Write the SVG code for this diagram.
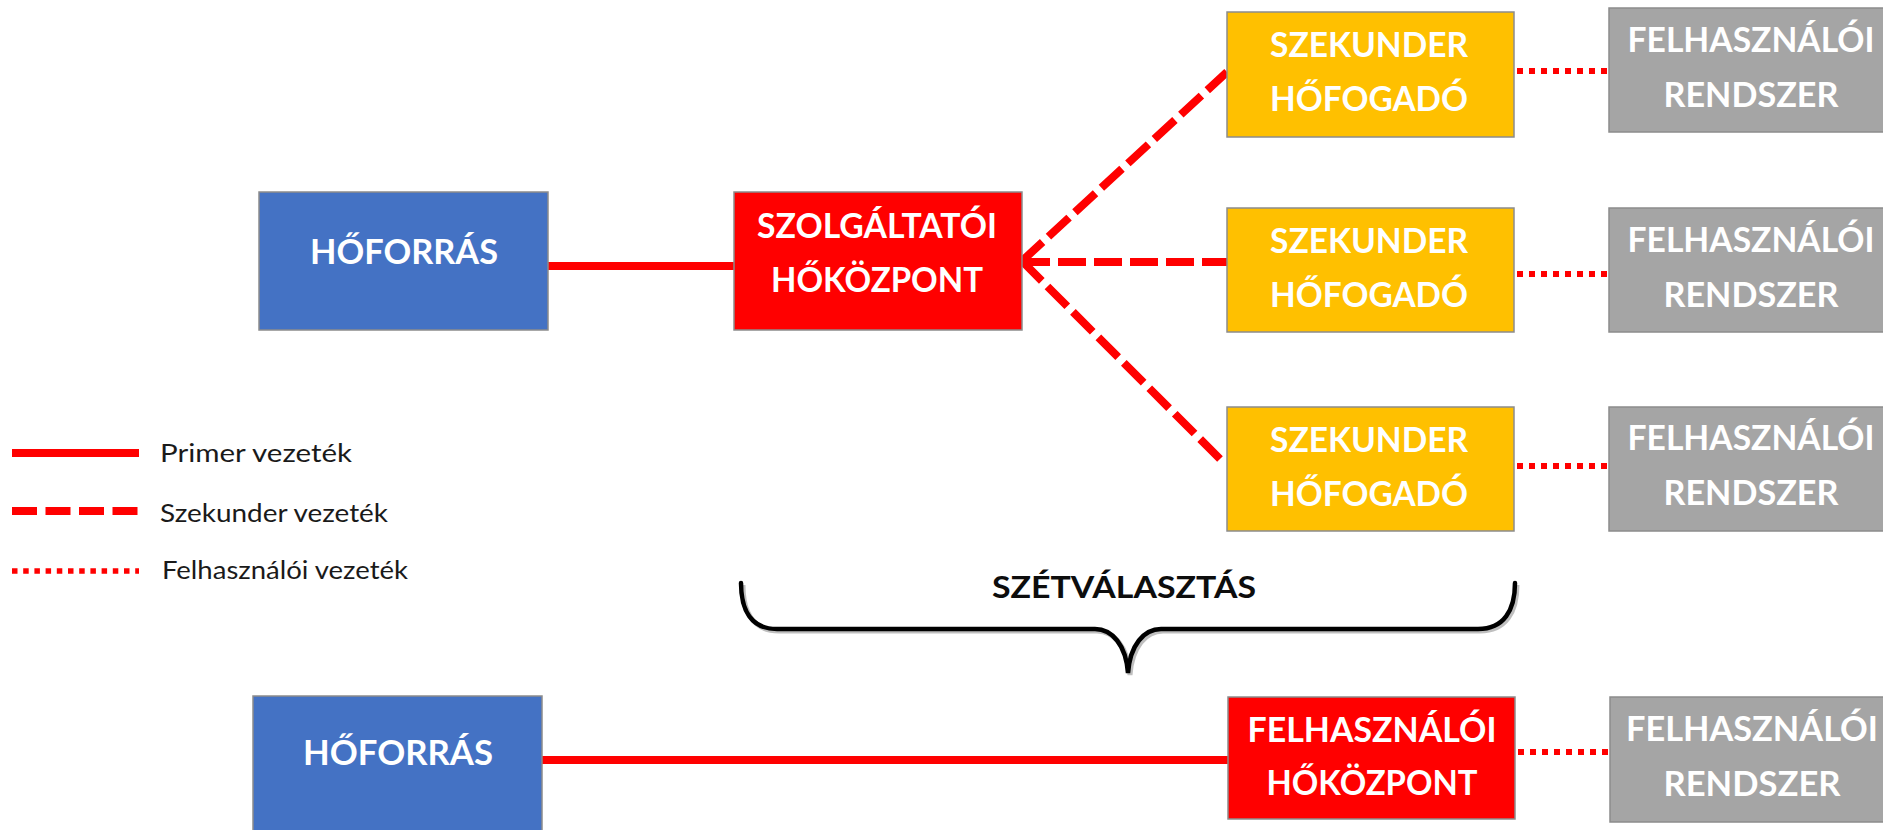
<svg xmlns="http://www.w3.org/2000/svg" width="1883" height="830" viewBox="0 0 1883 830">
<style>
  .box { stroke: #8c8c8c; stroke-width: 1.5; }
  .blue { fill: #4472C4; }
  .red { fill: #FF0000; }
  .yellow { fill: #FFC000; }
  .gray { fill: #A5A5A5; }
  .lbl { font-family: Lato, "Open Sans", "Liberation Sans", sans-serif; font-weight: 700; font-size: 34px; fill: #FFFFFF; text-anchor: middle; }
  .leg { font-family: Lato, "Open Sans", "Liberation Sans", sans-serif; font-size: 25px; fill: #1a1a1a; }
  .title { font-family: Lato, "Open Sans", "Liberation Sans", sans-serif; font-weight: 700; font-size: 30px; fill: #0d0d0d; text-anchor: middle; }
  .primer { stroke: #FF0000; stroke-width: 8; fill: none; }
  .szek { stroke: #FF0000; stroke-width: 8; fill: none; stroke-dasharray: 28 8; }
  .felh { stroke: #FF0000; stroke-width: 6; fill: none; stroke-dasharray: 6 6; }
</style>

<g id="connectors">
  <line class="primer" x1="548" y1="266" x2="734" y2="266"/>
  <line class="szek" x1="1022" y1="261" x2="1227" y2="72"/>
  <line class="szek" x1="1022" y1="262" x2="1227" y2="262"/>
  <line class="szek" x1="1022" y1="261" x2="1225" y2="464"/>
  <line class="felh" x1="1517" y1="71" x2="1609" y2="71"/>
  <line class="felh" x1="1517" y1="274" x2="1609" y2="274"/>
  <line class="felh" x1="1517" y1="466" x2="1609" y2="466"/>
  <line class="primer" x1="542" y1="760" x2="1228" y2="760"/>
  <line class="felh" x1="1518" y1="752" x2="1610" y2="752"/>
</g>

<g id="src1">
  <rect class="box blue" x="259" y="192" width="289" height="138"/>
  <text class="lbl" x="404" y="264" textLength="188" lengthAdjust="spacingAndGlyphs">HŐFORRÁS</text>
</g>
<g id="hub1">
  <rect class="box red" x="734" y="192" width="288" height="138"/>
  <text class="lbl" x="877" y="238" textLength="240" lengthAdjust="spacingAndGlyphs">SZOLGÁLTATÓI</text>
  <text class="lbl" x="877" y="292" textLength="212" lengthAdjust="spacingAndGlyphs">HŐKÖZPONT</text>
</g>
<g id="sec1">
  <rect class="box yellow" x="1227" y="12" width="287" height="125"/>
  <text class="lbl" x="1369" y="57" textLength="198" lengthAdjust="spacingAndGlyphs">SZEKUNDER</text>
  <text class="lbl" x="1369" y="111" textLength="198" lengthAdjust="spacingAndGlyphs">HŐFOGADÓ</text>
</g>
<g id="sec2">
  <rect class="box yellow" x="1227" y="208" width="287" height="124"/>
  <text class="lbl" x="1369" y="253" textLength="198" lengthAdjust="spacingAndGlyphs">SZEKUNDER</text>
  <text class="lbl" x="1369" y="307" textLength="198" lengthAdjust="spacingAndGlyphs">HŐFOGADÓ</text>
</g>
<g id="sec3">
  <rect class="box yellow" x="1227" y="407" width="287" height="124"/>
  <text class="lbl" x="1369" y="452" textLength="198" lengthAdjust="spacingAndGlyphs">SZEKUNDER</text>
  <text class="lbl" x="1369" y="506" textLength="198" lengthAdjust="spacingAndGlyphs">HŐFOGADÓ</text>
</g>
<g id="usr1">
  <rect class="box gray" x="1609" y="8" width="290" height="124"/>
  <text class="lbl" x="1751" y="52" textLength="247" lengthAdjust="spacingAndGlyphs">FELHASZNÁLÓI</text>
  <text class="lbl" x="1751" y="107" textLength="175" lengthAdjust="spacingAndGlyphs">RENDSZER</text>
</g>
<g id="usr2">
  <rect class="box gray" x="1609" y="208" width="290" height="124"/>
  <text class="lbl" x="1751" y="252" textLength="247" lengthAdjust="spacingAndGlyphs">FELHASZNÁLÓI</text>
  <text class="lbl" x="1751" y="307" textLength="175" lengthAdjust="spacingAndGlyphs">RENDSZER</text>
</g>
<g id="usr3">
  <rect class="box gray" x="1609" y="407" width="290" height="124"/>
  <text class="lbl" x="1751" y="450" textLength="247" lengthAdjust="spacingAndGlyphs">FELHASZNÁLÓI</text>
  <text class="lbl" x="1751" y="505" textLength="175" lengthAdjust="spacingAndGlyphs">RENDSZER</text>
</g>

<g id="src2">
  <rect class="box blue" x="253" y="696" width="289" height="150"/>
  <text class="lbl" x="398" y="765" textLength="190" lengthAdjust="spacingAndGlyphs">HŐFORRÁS</text>
</g>
<g id="hub2">
  <rect class="box red" x="1228" y="697" width="287" height="122"/>
  <text class="lbl" x="1372" y="742" textLength="249" lengthAdjust="spacingAndGlyphs">FELHASZNÁLÓI</text>
  <text class="lbl" x="1372" y="795" textLength="211" lengthAdjust="spacingAndGlyphs">HŐKÖZPONT</text>
</g>
<g id="usr4">
  <rect class="box gray" x="1610" y="697" width="290" height="125"/>
  <text class="lbl" x="1752" y="741" textLength="252" lengthAdjust="spacingAndGlyphs">FELHASZNÁLÓI</text>
  <text class="lbl" x="1752" y="796" textLength="177" lengthAdjust="spacingAndGlyphs">RENDSZER</text>
</g>

<g id="brace">
  <path d="M743,585 C743,612 753,631 779,631 L1097,631 C1114,631 1128,647 1130,675 C1132,647 1146,631 1163,631 L1480,631 C1506,631 1517,612 1517,585" fill="none" stroke="#000" stroke-opacity="0.25" stroke-width="5"/>
  <path d="M741,583 C741,610 751,629 777,629 L1095,629 C1112,629 1126,645 1128,673 C1130,645 1144,629 1161,629 L1478,629 C1504,629 1515,610 1515,583" fill="none" stroke="#000" stroke-width="4.5" stroke-linecap="round"/>
  <text class="title" x="1124" y="598" textLength="264" lengthAdjust="spacingAndGlyphs">SZÉTVÁLASZTÁS</text>
</g>

<g id="legend">
  <line class="primer" x1="12" y1="453" x2="139" y2="453"/>
  <line stroke="#FF0000" stroke-width="8" stroke-dasharray="25 8.5" x1="12" y1="511" x2="138" y2="511"/>
  <line stroke="#FF0000" stroke-width="5.5" stroke-dasharray="5.5 5.7" x1="12" y1="571" x2="139" y2="571"/>
  <text class="leg" x="160" y="462" textLength="192" lengthAdjust="spacingAndGlyphs">Primer vezeték</text>
  <text class="leg" x="160" y="522" textLength="228" lengthAdjust="spacingAndGlyphs">Szekunder vezeték</text>
  <text class="leg" x="162" y="579" textLength="246" lengthAdjust="spacingAndGlyphs">Felhasználói vezeték</text>
</g>
</svg>
